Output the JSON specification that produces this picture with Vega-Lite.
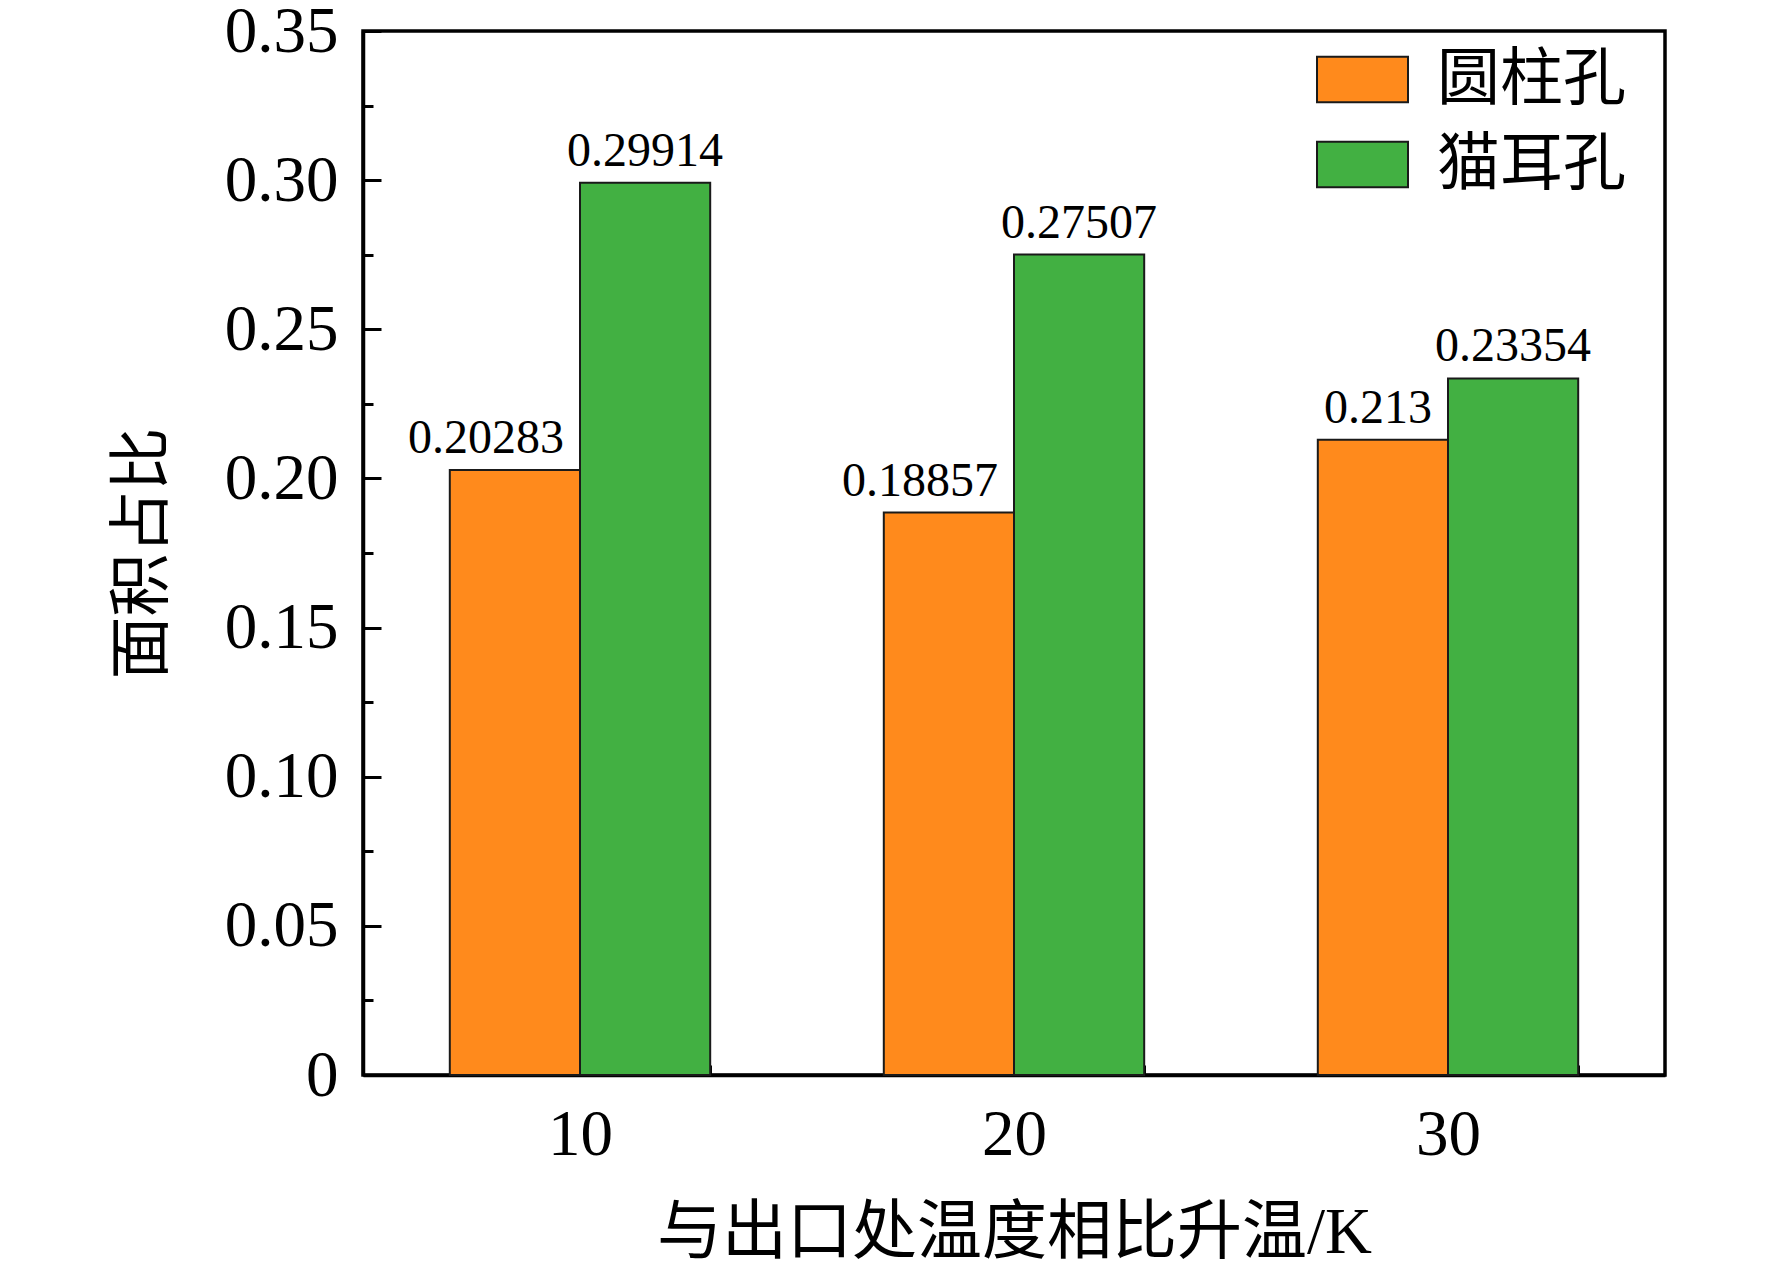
{
  "$schema": "https://vega.github.io/schema/vega-lite/v6.json",
  "width": 1302,
  "height": 1044,
  "autosize": {"type": "none"},
  "padding": {"left": 363, "top": 31, "right": 107, "bottom": 203},
  "background": "white",
  "config": {
    "view": {"stroke": "#000000", "strokeWidth": 3.5},
    "font": "Liberation Serif",
    "axis": {
      "domainColor": "#000000",
      "domainWidth": 3.5,
      "tickColor": "#000000",
      "tickWidth": 3,
      "labelColor": "#000000",
      "titleColor": "#000000",
      "grid": false
    }
  },
  "data": {
    "values": [
      {"temp": "10", "type": "圆柱孔", "value": 0.20283, "label": "0.20283"},
      {"temp": "10", "type": "猫耳孔", "value": 0.29914, "label": "0.29914"},
      {"temp": "20", "type": "圆柱孔", "value": 0.18857, "label": "0.18857"},
      {"temp": "20", "type": "猫耳孔", "value": 0.27507, "label": "0.27507"},
      {"temp": "30", "type": "圆柱孔", "value": 0.213, "label": "0.213"},
      {"temp": "30", "type": "猫耳孔", "value": 0.23354, "label": "0.23354"}
    ]
  },
  "encoding": {
    "x": {
      "field": "temp",
      "type": "nominal",
      "sort": ["10", "20", "30"],
      "scale": {"paddingInner": 0.4, "paddingOuter": 0.2},
      "axis": {
        "title": "与出口处温度相比升温/K",
        "titleFont": "Liberation Serif, Noto Sans CJK SC",
        "titleFontSize": 65,
        "titleFontWeight": "normal",
        "titlePadding": 34,
        "labelAngle": 0,
        "labelFontSize": 65,
        "labelPadding": 38,
        "tickBand": "extent",
        "tickSize": -10
      }
    },
    "xOffset": {
      "field": "type",
      "type": "nominal",
      "sort": ["圆柱孔", "猫耳孔"],
      "scale": {"paddingInner": 0, "paddingOuter": 0}
    }
  },
  "layer": [
    {
      "mark": {"type": "bar", "stroke": "#1a1a1a", "strokeWidth": 2, "opacity": 1},
      "encoding": {
        "y": {
          "field": "value",
          "type": "quantitative",
          "scale": {"domain": [0, 0.35], "nice": false, "zero": true},
          "axis": {
            "orient": "left",
            "values": [0, 0.05, 0.1, 0.15, 0.2, 0.25, 0.3, 0.35],
            "labelExpr": "datum.value == 0 ? '0' : format(datum.value, '.2f')",
            "labelFontSize": 65,
            "labelPadding": 43,
            "tickSize": -18,
            "title": "面积占比",
            "titleFont": "Noto Sans CJK SC",
            "titleFontSize": 63,
            "titleFontWeight": "normal",
            "titlePadding": 50
          }
        },
        "color": {
          "field": "type",
          "type": "nominal",
          "scale": {"domain": ["圆柱孔", "猫耳孔"], "range": ["#FF8A1C", "#42B042"]},
          "legend": {
            "title": null,
            "orient": "none",
            "legendX": 953,
            "legendY": 2,
            "padding": 0,
            "symbolType": "M-1,-0.5H1V0.5H-1Z",
            "symbolSize": 8281,
            "symbolStrokeColor": "#1a1a1a",
            "symbolStrokeWidth": 2,
            "symbolOpacity": 1,
            "labelFont": "Noto Sans CJK SC",
            "labelFontSize": 63,
            "labelColor": "#000000",
            "labelLimit": 400,
            "labelOffset": 28,
            "rowPadding": 6
          }
        }
      }
    },
    {
      "transform": [{"filter": "datum.type == '圆柱孔'"}],
      "mark": {"type": "text", "align": "right", "baseline": "alphabetic", "dx": 49, "dy": -17, "fontSize": 48, "font": "Liberation Serif", "color": "#000000"},
      "encoding": {
        "y": {"field": "value", "type": "quantitative", "axis": null},
        "text": {"field": "label"}
      }
    },
    {
      "transform": [{"filter": "datum.type == '猫耳孔'"}],
      "mark": {"type": "text", "align": "center", "baseline": "alphabetic", "dy": -17, "fontSize": 48, "font": "Liberation Serif", "color": "#000000"},
      "encoding": {
        "y": {
          "field": "value",
          "type": "quantitative",
          "axis": {
            "orient": "left",
            "values": [0.025, 0.075, 0.125, 0.175, 0.225, 0.275, 0.325],
            "labels": false,
            "domain": false,
            "title": null,
            "tickSize": -10
          }
        },
        "text": {"field": "label"}
      }
    }
  ],
  "resolve": {"axis": {"y": "independent"}}
}
